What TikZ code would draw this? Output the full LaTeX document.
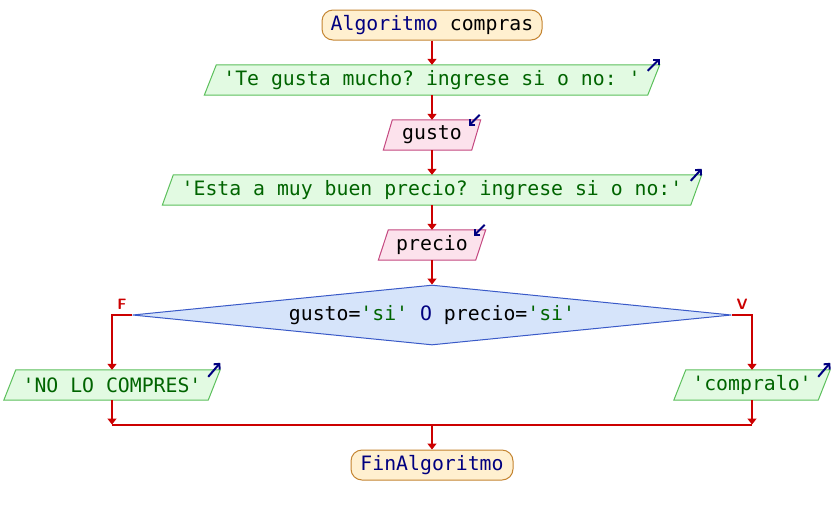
\documentclass[tikz,border=0pt]{standalone}
\usepackage{fontspec}
\setmonofont{DejaVu Sans Mono}
\usetikzlibrary{shapes.geometric,arrows.meta}
\definecolor{termfill}{RGB}{255,240,208}
\definecolor{termdraw}{RGB}{196,132,48}
\definecolor{outfill}{RGB}{226,250,226}
\definecolor{outdraw}{RGB}{92,192,92}
\definecolor{infill}{RGB}{252,226,236}
\definecolor{indraw}{RGB}{196,72,128}
\definecolor{decfill}{RGB}{214,228,250}
\definecolor{decdraw}{RGB}{58,90,200}
\definecolor{flow}{RGB}{204,0,0}
\definecolor{kw}{RGB}{0,0,128}
\definecolor{str}{RGB}{0,100,0}
\pgfdeclarelayer{back}\pgfdeclarelayer{bg}\pgfsetlayers{back,bg,main}
\begin{document}
\begin{tikzpicture}[x=1pt,y=-1pt,
  font=\fontsize{19.8}{24}\selectfont\ttfamily,
  every node/.style={inner sep=0pt},
  term/.style={draw=termdraw, fill=termfill, rounded corners=11pt, minimum height=30pt, line width=1pt},
  io/.style={minimum height=30pt},
  outshape/.style={draw=outdraw, fill=outfill, line width=1pt},
  inshape/.style={draw=indraw, fill=infill, line width=1pt},
  dec/.style={diamond, draw=decdraw, fill=decfill, aspect=10, minimum width=599pt, minimum height=60pt, line width=1pt},
  conn/.style={draw=flow, line width=2pt, -{Triangle[width=9pt,length=6pt]}},
  link/.style={draw=flow, line width=2pt},
  icon/.style={draw=kw, line width=2pt, -{Straight Barb[length=4pt,width=8pt,line width=2pt]}},
  lbl/.style={text=flow, font=\fontsize{15}{17}\selectfont\sffamily\bfseries}]
\begin{pgfonlayer}{back}
\fill[white] (0,0) rectangle (834,515);
\end{pgfonlayer}
\useasboundingbox (0,0) rectangle (834,515);

\node[term, minimum width=220pt] (start) at (432,25) {\textcolor{kw}{Algoritmo} compras};
\node[io, minimum width=443pt] (o1) at (432,80) {\textcolor{str}{'Te gusta mucho? ingrese si o no: '}};
\node[io, minimum width=88pt] (gusto) at (432,135) {gusto};
\node[io, minimum width=528pt] (o2) at (432,190) {\textcolor{str}{'Esta a muy buen precio? ingrese si o no:'}};
\node[io, minimum width=97pt] (precio) at (432,245) {precio};
\node[dec] (d) at (432,315) {gusto=\textcolor{str}{'si'} \textcolor{kw}{O} precio=\textcolor{str}{'si'}};
\node[io, minimum width=204pt] (no) at (112,385) {\textcolor{str}{'NO LO COMPRES'}};
\node[io, minimum width=144pt] (yes) at (752,385) {\textcolor{str}{'compralo'}};
\node[term, minimum width=162pt] (fin) at (432,465) {\textcolor{kw}{FinAlgoritmo}};
\node[lbl] (fl) at (122,304) {F};
\node[lbl] (vl) at (742,304) {V};

\begin{pgfonlayer}{bg}
\path[outshape] ([xshift=-6]o1.south west) -- ([xshift=6]o1.north west) -- ([xshift=6]o1.north east) -- ([xshift=-6]o1.south east) -- cycle;
\path[outshape] ([xshift=-5.5]o2.south west) -- ([xshift=5.5]o2.north west) -- ([xshift=5.5]o2.north east) -- ([xshift=-5.5]o2.south east) -- cycle;
\path[outshape] ([xshift=-6]no.south west) -- ([xshift=6]no.north west) -- ([xshift=6]no.north east) -- ([xshift=-6]no.south east) -- cycle;
\path[outshape] ([xshift=-6]yes.south west) -- ([xshift=6]yes.north west) -- ([xshift=6]yes.north east) -- ([xshift=-6]yes.south east) -- cycle;
\path[inshape] ([xshift=-4.5]gusto.south west) -- ([xshift=4.5]gusto.north west) -- ([xshift=4.5]gusto.north east) -- ([xshift=-4.5]gusto.south east) -- cycle;
\path[inshape] ([xshift=-5]precio.south west) -- ([xshift=5]precio.north west) -- ([xshift=5]precio.north east) -- ([xshift=-5]precio.south east) -- cycle;
\end{pgfonlayer}

% icons
\draw[icon] ([shift={(-6,6)}]o1.north east) -- ([shift={(6,-6)}]o1.north east);
\draw[icon] ([shift={(-5.5,6)}]o2.north east) -- ([shift={(5.5,-6)}]o2.north east);
\draw[icon] ([shift={(-6,7)}]no.north east) -- ([shift={(6,-7)}]no.north east);
\draw[icon] ([shift={(-6,7)}]yes.north east) -- ([shift={(6,-7)}]yes.north east);
\draw[icon] ([shift={(3.5,-5)}]gusto.north east) -- ([shift={(-7.5,6)}]gusto.north east);
\draw[icon] ([shift={(4,-5)}]precio.north east) -- ([shift={(-7,6)}]precio.north east);

% connectors
\coordinate (j) at (432,424.5);
\draw[conn] (start) -- (o1);
\draw[conn] (o1) -- (gusto);
\draw[conn] (gusto) -- (o2);
\draw[conn] (o2) -- (precio);
\draw[conn] (precio) -- (d);
\draw[conn] (d.west) -| (no.north);
\draw[conn] (d.east) -| (yes.north);
\draw[conn] (no.south) -- (no.south |- j);
\draw[conn] (yes.south) -- (yes.south |- j);
\draw[link] (no.south |- j) -- (yes.south |- j);
\draw[conn] (j) -- (fin);
\end{tikzpicture}
\end{document}
